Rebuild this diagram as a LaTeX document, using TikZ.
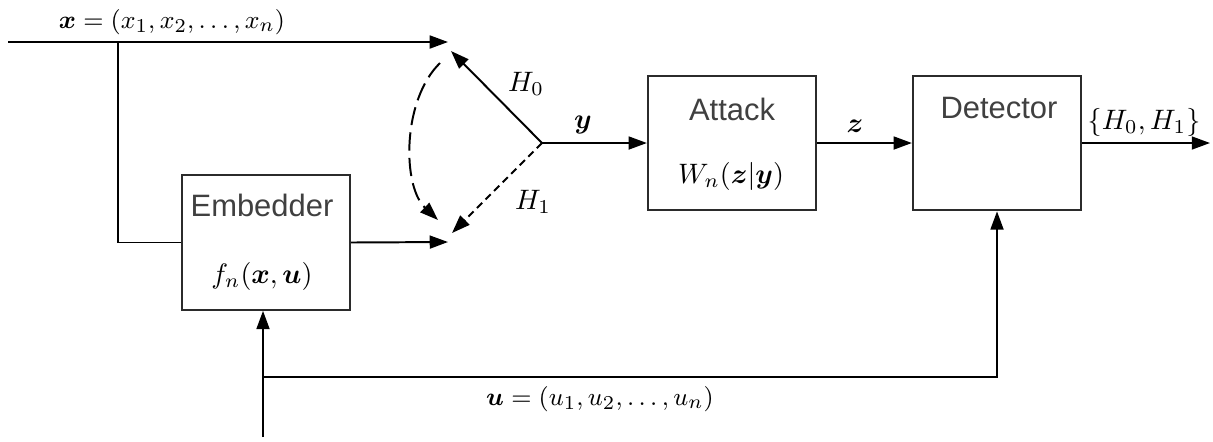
\documentclass[tikz,border=0pt]{standalone}
\usepackage{fontspec}
\usepackage{amsmath,bm}
\usetikzlibrary{arrows.meta,positioning}
\newfontfamily\blockfont{Liberation Sans}
\definecolor{edgegray}{HTML}{2B2B2B}
\definecolor{textgray}{HTML}{404040}
\tikzset{
  block/.style={
    rectangle, draw=edgegray, line width=0.8pt,
    minimum width=21mm, minimum height=16.8mm, inner sep=0pt
  },
  blocktitle/.style={
    font=\blockfont\fontsize{11}{13}\selectfont, text=textgray
  },
  mathlabel/.style={
    font=\fontsize{10}{12}\selectfont
  },
  vectlabel/.style={
    font=\fontsize{9.3}{11}\selectfont
  },
  sig/.style={
    -{Triangle[length=6.5pt,width=4.6pt]}, line width=0.7pt
  },
  wire/.style={line width=0.7pt},
  swarc/.style={
    sig, dash pattern=on 6.5pt off 2.6pt
  },
  swdash/.style={
    sig, dash pattern=on 2.6pt off 1.7pt
  },
}

\begin{document}
\begin{tikzpicture}[x=0.125mm, y=-0.125mm]
  \useasboundingbox (0,0) rectangle (1213,441);

  % Blocks
  \node[block] (emb) at (266,242.5) {};
  \node[block] (att) at (732,143) {};
  \node[block] (det) at (997,143) {};

  \node[blocktitle] (embT) at (262,205) {Embedder};
  \node[mathlabel] (embF) at (262,276) {$f_n(\bm{x},\bm{u})$};
  \node[blocktitle] (attT) at (732,109) {Attack};
  \node[mathlabel] (attF) at (731,176) {$W_n(\bm{z}|\bm{y})$};
  \node[blocktitle] (detT) at (999,108) {Detector};

  % Switch points
  \coordinate (xin) at (8,42);
  \coordinate (xbr) at (118,42);
  \coordinate (top) at (448,42);
  \coordinate (bot) at (448,242);
  \coordinate (pivot) at (542,143);
  \coordinate (h0) at (451,51);
  \coordinate (h1) at (452,233);
  \coordinate (arcS) at (440,63);
  \coordinate (arcE) at (438,220);
  \coordinate (out) at (1210,143);
  \coordinate (uin) at (263,437);
  \coordinate (ubr) at (263,377);

  % Signal paths
  \draw[sig] (xin) -- (top);
  \draw[wire] (xbr) |- (emb.west);
  \draw[sig] (emb.east) -- (bot);
  \draw[sig] (pivot) -- (h0);
  \draw[swdash] (pivot) -- (h1);
  \draw[swarc] (arcS) .. controls (402,100) and (402,186) .. (arcE);
  \draw[sig] (pivot) -- (att.west);
  \draw[sig] (att.east) -- (det.west);
  \draw[sig] (det.east) -- (out);
  \draw[sig] (uin) -- (uin |- emb.south);
  \draw[sig] (ubr) -| (det.south);

  % Labels
  \node[vectlabel] (xlab) at (172,22) {$\bm{x}=(x_1,x_2,\ldots,x_n)$};
  \node[vectlabel] (ulab) at (600,399) {$\bm{u}=(u_1,u_2,\ldots,u_n)$};
  \node[mathlabel] (h0lab) at (526,84) {$H_0$};
  \node[mathlabel] (h1lab) at (533,202) {$H_1$};
  \node[mathlabel] (ylab) at (583,125) {$\bm{y}$};
  \node[mathlabel] (zlab) at (855,126) {$\bm{z}$};
  \node[mathlabel] (outlab) at (1144,122) {$\{H_0,H_1\}$};
\end{tikzpicture}
\end{document}
